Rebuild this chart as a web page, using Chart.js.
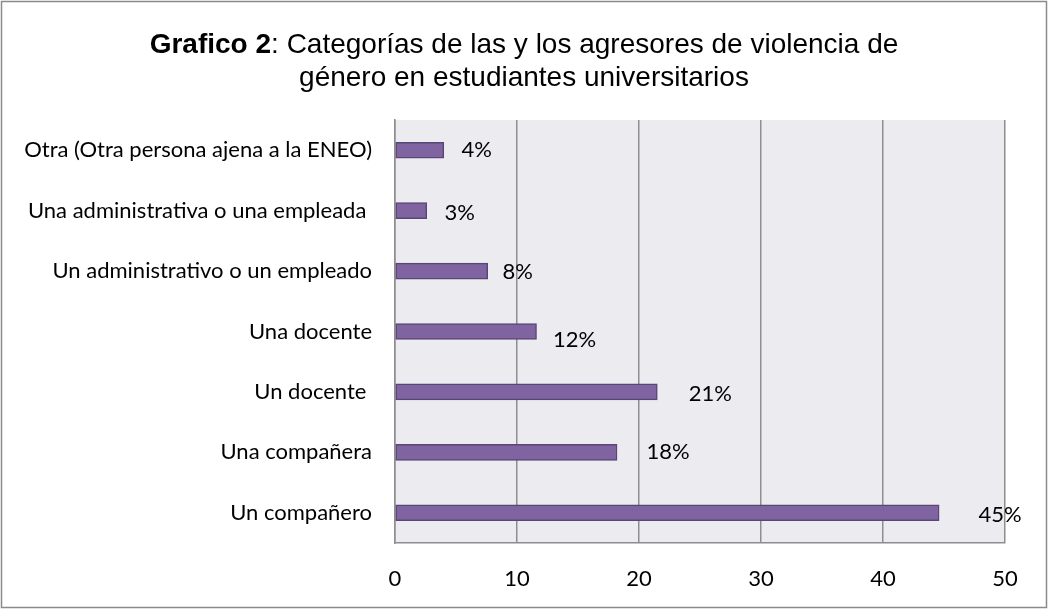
<!DOCTYPE html>
<html>
<head>
<meta charset="utf-8">
<script src="https://cdn.jsdelivr.net/npm/chart.js"></script>
<style>
    html, body { margin: 0; padding: 0; background: #ffffff; }
    #wrap { width: 1048px; height: 610px; position: relative; }
</style>
</head>
<body>
<div id="wrap"><canvas id="agresoresChart"></canvas></div>
<script>
// Chart data
const categories = [
    'Otra (Otra persona ajena a la ENEO)',
    'Una administrativa o una empleada ',
    'Un administrativo o un empleado',
    'Una docente',
    'Un docente ',
    'Una compañera',
    'Un compañero'
];
const values = [4.0, 2.6, 7.6, 11.6, 21.5, 18.2, 44.6];
const valueLabels = ['4%', '3%', '8%', '12%', '21%', '18%', '45%'];
const xTicks = [0, 10, 20, 30, 40, 50];

// label offsets from the bar end (moved by hand in the original)
const labelDx = [33, 33, 30, 38, 53, 51, 61];
const labelDy = [0, 2, 1, 8, 2, 0, 2];

const colors = {
    bar: '#8064a2',
    barBorder: '#5a4676',
    plotBg: '#ecebf0',
    grid: '#8e8e8e',
    frame: '#8a8a8a',
    text: '#000000'
};

const bodyFont = 'Lato, "Open Sans", sans-serif';

// plot background + outer frame + title + value labels
const decorPlugin = {
    id: 'decor',
    beforeDraw(chart) {
        const { ctx, chartArea } = chart;
        ctx.save();
        ctx.fillStyle = '#ffffff';
        ctx.fillRect(0, 0, chart.width, chart.height);
        ctx.fillStyle = colors.plotBg;
        ctx.fillRect(chartArea.left, chartArea.top,
            chartArea.right - chartArea.left, chartArea.bottom - chartArea.top);
        ctx.strokeStyle = colors.frame;
        ctx.lineWidth = 1.5;
        ctx.strokeRect(1.5, 1.5, chart.width - 3, chart.height - 4);
        ctx.restore();
    },
    afterDraw(chart) {
        const { ctx } = chart;
        ctx.save();
        ctx.fillStyle = colors.text;
        ctx.textBaseline = 'middle';

        // title, first part bold
        const boldPart = 'Grafico 2';
        const restPart = ': Categorías de las y los agresores de violencia de';
        const bold = 'bold 28px "Liberation Sans", Arial, sans-serif';
        const normal = '28px "Liberation Sans", Arial, sans-serif';
        ctx.font = bold;
        const w1 = ctx.measureText(boldPart).width;
        ctx.font = normal;
        const w2 = ctx.measureText(restPart).width;
        let x = 524 - (w1 + w2) / 2;
        ctx.textAlign = 'left';
        ctx.font = bold;
        ctx.fillText(boldPart, x, 45);
        ctx.font = normal;
        ctx.fillText(restPart, x + w1, 45);
        ctx.textAlign = 'center';
        ctx.fillText('género en estudiantes universitarios', 524, 78);

        // value labels
        ctx.font = '22px ' + bodyFont;
        const meta = chart.getDatasetMeta(0);
        meta.data.forEach((bar, i) => {
            ctx.fillText(valueLabels[i], bar.x + labelDx[i], bar.y + labelDy[i]);
        });
        ctx.restore();
    }
};

const ctx = document.getElementById('agresoresChart');
new Chart(ctx, {
    type: 'bar',
    data: {
        labels: categories,
        datasets: [{
            data: values,
            backgroundColor: colors.bar,
            borderColor: colors.barBorder,
            borderWidth: 1.5,
            borderSkipped: false,
            barThickness: 16
        }]
    },
    options: {
        indexAxis: 'y',
        responsive: true,
        maintainAspectRatio: false,
        animation: false,
        devicePixelRatio: 1,
        layout: {
            padding: { left: 0, right: 43, top: 120, bottom: 0 }
        },
        plugins: {
            legend: { display: false },
            tooltip: { enabled: false }
        },
        scales: {
            x: {
                min: 0,
                max: 50,
                afterBuildTicks(scale) {
                    scale.ticks = xTicks.map(v => ({ value: v }));
                },
                afterFit(scale) {
                    scale.height = 67;
                },
                grid: {
                    color: colors.grid,
                    lineWidth: 1.5,
                    drawTicks: false
                },
                border: { color: colors.grid, width: 1.5 },
                ticks: {
                    padding: 23,
                    color: colors.text,
                    font: { family: bodyFont, size: 22 }
                }
            },
            y: {
                afterFit(scale) {
                    scale.width = 395;
                },
                grid: { display: false, drawTicks: false },
                border: { color: colors.grid, width: 1.5 },
                ticks: {
                    padding: 23,
                    color: colors.text,
                    font: { family: bodyFont, size: 22 }
                }
            }
        }
    },
    plugins: [decorPlugin]
});
</script>
</body>
</html>
